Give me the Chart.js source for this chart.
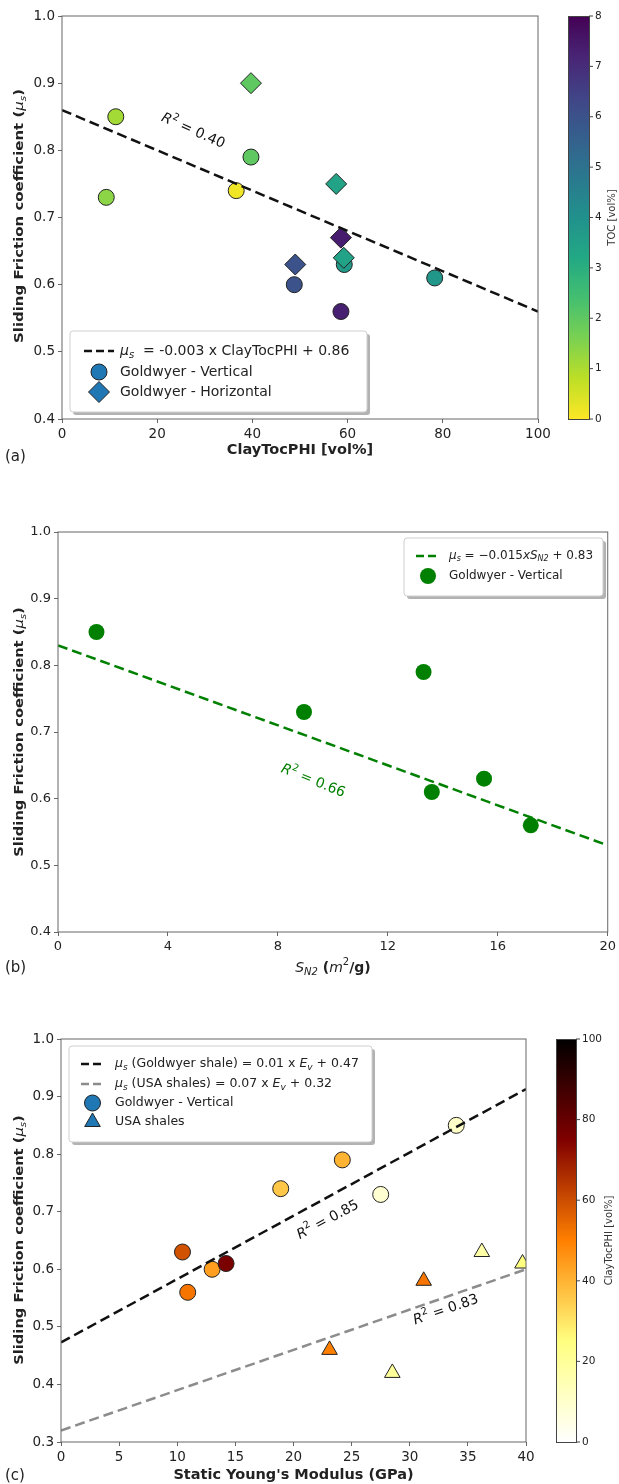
<!DOCTYPE html>
<html>
<head>
<meta charset="utf-8">
<script src="https://cdn.jsdelivr.net/npm/chart.js@4.4.1/dist/chart.umd.min.js"></script>
<style>
  body { margin: 0; background: #fff; }
  canvas { position: absolute; left: 0; }
</style>
</head>
<body>
<canvas id="chartA" width="619" height="480" style="top:0"></canvas>
<canvas id="chartB" width="619" height="500" style="top:480px"></canvas>
<canvas id="chartC" width="619" height="504" style="top:980px"></canvas>
<script>
// (a) friction vs ClayTocPHI, coloured by TOC
const clayVert = [11.3, 9.3, 39.7, 36.6, 48.8, 59.3, 58.6, 78.3];
const muVert = [0.85, 0.73, 0.79, 0.74, 0.60, 0.63, 0.56, 0.61];
const tocVert = [1.1, 1.4, 2.0, 0.15, 6.0, 3.7, 7.3, 3.8];
const clayHoriz = [39.7, 57.6, 58.6, 49.0, 59.2];
const muHoriz = [0.90, 0.75, 0.67, 0.63, 0.64];
const tocHoriz = [2.0, 3.4, 7.4, 6.0, 3.4];
const fitA = [-0.003, 0.86]; // slope, intercept

// (b) friction vs N2 surface area
const sn2 = [1.4, 8.95, 13.3, 13.6, 15.5, 17.2];
const muSn2 = [0.85, 0.73, 0.79, 0.61, 0.63, 0.56];
const fitB = [-0.015, 0.83];

// (c) friction vs static Young's modulus, coloured by ClayTocPHI
const eGoldwyer = [34.0, 24.2, 18.9, 27.5, 10.45, 10.9, 13.0, 14.2];
const muGoldwyer = [0.85, 0.79, 0.74, 0.73, 0.63, 0.56, 0.60, 0.61];
const clayGoldwyer = [11, 40, 36, 9, 59, 52, 44, 76];
const eUsa = [23.1, 28.5, 31.2, 36.2, 39.7];
const muUsa = [0.46, 0.42, 0.58, 0.63, 0.61];
const clayUsa = [50, 20, 52, 17, 25];
const fitGoldwyer = [0.011, 0.473];
const fitUsa = [0.007, 0.32];

// tick labels
const xTicksA = [0, 20, 40, 60, 80, 100];
const yTicksA = [0.4, 0.5, 0.6, 0.7, 0.8, 0.9, 1.0];
const tocTicks = [0, 1, 2, 3, 4, 5, 6, 7, 8];
const xTicksB = [0, 4, 8, 12, 16, 20];
const yTicksB = [0.4, 0.5, 0.6, 0.7, 0.8, 0.9, 1.0];
const xTicksC = [0, 5, 10, 15, 20, 25, 30, 35, 40];
const yTicksC = [0.3, 0.4, 0.5, 0.6, 0.7, 0.8, 0.9, 1.0];
const clayTicks = [0, 20, 40, 60, 80, 100];

const FAM = "'DejaVu Sans', sans-serif";
const TXT = '#222';
const DASH = [10, 5];

// colormaps
const VIRIDIS = ['#440154', '#482475', '#414487', '#355f8d', '#2a788e', '#21918c',
  '#22a884', '#44bf70', '#7ad151', '#bddf26', '#fde725'];
function hexRgb(h) {
  return [1, 3, 5].map(i => parseInt(h.slice(i, i + 2), 16));
}
function viridis(t) {
  t = Math.max(0, Math.min(1, t));
  const i = Math.min(9, Math.floor(t * 10));
  const f = t * 10 - i;
  const a = hexRgb(VIRIDIS[i]), b = hexRgb(VIRIDIS[i + 1]);
  const c = a.map((v, k) => Math.round(v + (b[k] - v) * f));
  return `rgb(${c[0]},${c[1]},${c[2]})`;
}
const tocColor = v => viridis(1 - v / 8);
function afmhotR(v) {
  const t = 1 - v / 100;
  const c = x => Math.round(255 * Math.max(0, Math.min(1, x)));
  return `rgb(${c(2 * t)},${c(2 * t - 0.5)},${c(2 * t - 1)})`;
}

function fitLine(coef, x0, x1) {
  return [x0, x1].map(x => ({ x, y: coef[1] + coef[0] * x }));
}
function points(xs, ys) {
  return xs.map((x, i) => ({ x, y: ys[i] }));
}

// mixed-style text runs
const reg = (t, s = 13) => ({ text: t, font: `${s}px ${FAM}` });
const bold = (t, s = 13) => ({ text: t, font: `bold ${s}px ${FAM}` });
const ital = (t, s = 13) => ({ text: t, font: `italic ${s}px ${FAM}` });
const sub = (t, s = 13) => ({ text: t, font: `italic ${Math.round(s * 0.7)}px ${FAM}`, dy: s * 0.28 });
const sup = (t, s = 13) => ({ text: t, font: `${Math.round(s * 0.7)}px ${FAM}`, dy: -s * 0.38 });

function drawRich(ctx, parts, x, y, align, color) {
  ctx.save();
  ctx.textBaseline = 'middle';
  ctx.textAlign = 'left';
  let w = 0;
  parts.forEach(p => { ctx.font = p.font; p.w = ctx.measureText(p.text).width; w += p.w; });
  let cx = align === 'center' ? x - w / 2 : x;
  ctx.fillStyle = color || TXT;
  parts.forEach(p => {
    ctx.font = p.font;
    ctx.fillText(p.text, cx, y + (p.dy || 0));
    cx += p.w;
  });
  ctx.restore();
}
function drawRotated(ctx, parts, x, y, deg, color, stretch) {
  ctx.save();
  ctx.translate(x, y);
  ctx.rotate(deg * Math.PI / 180);
  if (stretch) ctx.scale(stretch, 1);
  drawRich(ctx, parts, 0, 0, 'center', color);
  ctx.restore();
}

function marker(ctx, shape, x, y, r, fill, edge) {
  ctx.save();
  ctx.beginPath();
  if (shape === 'circle') {
    ctx.arc(x, y, r, 0, Math.PI * 2);
  } else if (shape === 'diamond') {
    ctx.moveTo(x, y - r); ctx.lineTo(x + r, y); ctx.lineTo(x, y + r); ctx.lineTo(x - r, y);
    ctx.closePath();
  } else {
    ctx.moveTo(x, y - r); ctx.lineTo(x + r * 0.866, y + r / 2); ctx.lineTo(x - r * 0.866, y + r / 2);
    ctx.closePath();
  }
  ctx.fillStyle = fill;
  ctx.fill();
  if (edge) { ctx.strokeStyle = edge; ctx.lineWidth = 1; ctx.stroke(); }
  ctx.restore();
}

function roundRect(ctx, x, y, w, h, r) {
  ctx.beginPath();
  ctx.moveTo(x + r, y);
  ctx.arcTo(x + w, y, x + w, y + h, r);
  ctx.arcTo(x + w, y + h, x, y + h, r);
  ctx.arcTo(x, y + h, x, y, r);
  ctx.arcTo(x, y, x + w, y, r);
  ctx.closePath();
}

function drawLegend(ctx, box, items) {
  ctx.save();
  ctx.fillStyle = 'rgba(0,0,0,0.3)';
  roundRect(ctx, box.x + 3, box.y + 3, box.w, box.h, 3);
  ctx.fill();
  ctx.fillStyle = '#fff';
  roundRect(ctx, box.x, box.y, box.w, box.h, 3);
  ctx.fill();
  ctx.strokeStyle = '#cfcfcf';
  ctx.lineWidth = 1;
  ctx.stroke();
  items.forEach(it => {
    if (it.line) {
      ctx.save();
      ctx.strokeStyle = it.line;
      ctx.lineWidth = 2.5;
      ctx.setLineDash([8, 4]);
      ctx.beginPath();
      ctx.moveTo(box.h0, it.y);
      ctx.lineTo(box.h1, it.y);
      ctx.stroke();
      ctx.restore();
    } else {
      marker(ctx, it.shape, (box.h0 + box.h1) / 2, it.y, it.r, it.fill, it.edge);
    }
    drawRich(ctx, it.label, box.tx, it.y, 'left', TXT);
  });
  ctx.restore();
}

function drawColorbar(ctx, cb) {
  ctx.save();
  const g = ctx.createLinearGradient(0, cb.bottom, 0, cb.top);
  for (let i = 0; i <= 20; i++) g.addColorStop(i / 20, cb.cmap(i / 20));
  ctx.fillStyle = g;
  ctx.fillRect(cb.x, cb.top, cb.w, cb.bottom - cb.top);
  ctx.strokeStyle = '#444';
  ctx.lineWidth = 1;
  ctx.strokeRect(cb.x + 0.5, cb.top + 0.5, cb.w, cb.bottom - cb.top);
  ctx.fillStyle = TXT;
  ctx.font = `10.5px ${FAM}`;
  ctx.textBaseline = 'middle';
  cb.ticks.forEach(v => {
    const y = cb.bottom - (v - cb.min) / (cb.max - cb.min) * (cb.bottom - cb.top);
    ctx.beginPath();
    ctx.moveTo(cb.x + cb.w, y);
    ctx.lineTo(cb.x + cb.w + 4, y);
    ctx.stroke();
    ctx.fillText(String(v), cb.x + cb.w + 6, y);
  });
  ctx.restore();
  drawRotated(ctx, [reg(cb.label, 10)], cb.lx, (cb.top + cb.bottom) / 2, -90, '#333');
}

function drawFrame(ctx, a) {
  ctx.save();
  ctx.strokeStyle = '#666';
  ctx.lineWidth = 1;
  ctx.strokeRect(a.left, a.top, a.right - a.left, a.bottom - a.top);
  ctx.restore();
}

function scaleOpts(range, ticks, fmt, fit, size) {
  return {
    type: 'linear',
    min: range[0],
    max: range[1],
    afterBuildTicks: s => { s.ticks = ticks.map(v => ({ value: v })); },
    afterFit: fit,
    grid: { drawOnChartArea: false, drawTicks: true, tickLength: 4, tickColor: '#666' },
    border: { display: false },
    ticks: { font: { family: FAM, size: size }, color: TXT, padding: 3,
      maxRotation: 0, autoSkip: false, callback: fmt }
  };
}

function baseOptions(box, h, xr, xt, yr, yt, size) {
  return {
    responsive: false,
    devicePixelRatio: 1,
    animation: false,
    events: [],
    layout: { padding: { left: 0, top: box.top, right: 619 - box.right, bottom: 0 } },
    plugins: { legend: { display: false }, tooltip: { enabled: false } },
    scales: {
      x: scaleOpts(xr, xt, v => String(v), s => { s.height = h - box.bottom; }, size),
      y: scaleOpts(yr, yt, v => v.toFixed(1), s => { s.width = box.left; }, size)
    }
  };
}

const yTitle = [bold('Sliding Friction coefficient ('), ital('μ'), sub('s'), bold(')')];
const R2 = v => [ital('R', 14), sup('2', 14), reg(' = ' + v, 14)];

// ---- (a)
const boxA = { left: 62, right: 538, top: 16, bottom: 419 };
new Chart(document.getElementById('chartA'), {
  type: 'scatter',
  data: {
    datasets: [
      { type: 'line', data: fitLine(fitA, 0, 100), borderColor: '#111', borderWidth: 2.5,
        borderDash: DASH, pointRadius: 0, clip: 0 },
      { data: points(clayHoriz, muHoriz), pointStyle: 'rectRot', pointRadius: 10.5,
        backgroundColor: tocHoriz.map(tocColor), borderColor: '#222', borderWidth: 1, clip: 0 },
      { data: points(clayVert, muVert), pointStyle: 'circle', pointRadius: 8,
        backgroundColor: tocVert.map(tocColor), borderColor: '#222', borderWidth: 1, clip: 0 }
    ]
  },
  options: baseOptions(boxA, 480, [0, 100], xTicksA, [0.4, 1.0], yTicksA, 13.5),
  plugins: [{
    id: 'decorA',
    afterDraw(chart) {
      const ctx = chart.ctx;
      drawFrame(ctx, chart.chartArea);
      drawRotated(ctx, R2('0.40'), 193, 131, 24, '#111');
      drawLegend(ctx, { x: 70, y: 331, w: 297, h: 81, h0: 84, h1: 114, tx: 120 }, [
        { line: '#111', y: 351, label: [ital('μ', 14), sub('s', 14), reg('  = -0.003 x ClayTocPHI + 0.86', 14)] },
        { shape: 'circle', r: 8, fill: '#1f77b4', edge: '#222', y: 372, label: [reg('Goldwyer - Vertical', 14)] },
        { shape: 'diamond', r: 10.5, fill: '#1f77b4', edge: '#222', y: 392, label: [reg('Goldwyer - Horizontal', 14)] }
      ]);
      drawColorbar(ctx, { x: 568, w: 21, top: 16, bottom: 419, min: 0, max: 8, ticks: tocTicks,
        cmap: t => viridis(1 - t), label: 'TOC [vol%]', lx: 612 });
      drawRotated(ctx, yTitle, 20, 216, -90, TXT, 1.15);
      drawRich(ctx, [bold('ClayTocPHI [vol%]', 14.5)], 300, 450, 'center');
      drawRich(ctx, [reg('(a)', 15)], 5, 457, 'left');
    }
  }]
});

// ---- (b)
const boxB = { left: 58, right: 608, top: 52, bottom: 452 };
new Chart(document.getElementById('chartB'), {
  type: 'scatter',
  data: {
    datasets: [
      { type: 'line', data: fitLine(fitB, 0, 20), borderColor: '#008000', borderWidth: 2.5,
        borderDash: DASH, pointRadius: 0, clip: 0 },
      { data: points(sn2, muSn2), pointStyle: 'circle', pointRadius: 8,
        backgroundColor: '#008000', borderWidth: 0, clip: 0 }
    ]
  },
  options: baseOptions(boxB, 500, [0, 20], xTicksB, [0.4, 1.0], yTicksB, 13),
  plugins: [{
    id: 'decorB',
    afterDraw(chart) {
      const ctx = chart.ctx;
      drawFrame(ctx, chart.chartArea);
      drawRotated(ctx, R2('0.66'), 313, 301, 22, '#008000');
      drawLegend(ctx, { x: 404, y: 58, w: 199, h: 58, h0: 416, h1: 440, tx: 449 }, [
        { line: '#008000', y: 76, label: [ital('μ', 12), sub('s', 12), reg(' = −0.015', 12),
          ital('x', 12), ital('S', 12), sub('N2', 12), reg(' + 0.83', 12)] },
        { shape: 'circle', r: 8, fill: '#008000', y: 96, label: [reg('Goldwyer - Vertical', 12)] }
      ]);
      drawRotated(ctx, yTitle, 20, 252, -90, TXT, 1.13);
      drawRich(ctx, [ital('S', 14), sub('N2', 14), bold(' (', 14), ital('m', 14), sup('2', 14), bold('/g)', 14)],
        333, 488, 'center');
      drawRich(ctx, [reg('(b)', 15)], 5, 488, 'left');
    }
  }]
});

// ---- (c)
const boxC = { left: 61, right: 526, top: 59, bottom: 462 };
new Chart(document.getElementById('chartC'), {
  type: 'scatter',
  data: {
    datasets: [
      { type: 'line', data: fitLine(fitGoldwyer, 0, 40), borderColor: '#111', borderWidth: 2.5,
        borderDash: DASH, pointRadius: 0, clip: 0 },
      { type: 'line', data: fitLine(fitUsa, 0, 40), borderColor: '#8c8c8c', borderWidth: 2.5,
        borderDash: DASH, pointRadius: 0, clip: 0 },
      { data: points(eGoldwyer, muGoldwyer), pointStyle: 'circle', pointRadius: 8,
        backgroundColor: clayGoldwyer.map(afmhotR), borderColor: '#222', borderWidth: 1, clip: 0 },
      { data: points(eUsa, muUsa), pointStyle: 'triangle', pointRadius: 9,
        backgroundColor: clayUsa.map(afmhotR), borderColor: '#222', borderWidth: 1, clip: 0 }
    ]
  },
  options: baseOptions(boxC, 504, [0, 40], xTicksC, [0.3, 1.0], yTicksC, 13.5),
  plugins: [{
    id: 'decorC',
    afterDraw(chart) {
      const ctx = chart.ctx;
      drawFrame(ctx, chart.chartArea);
      drawRotated(ctx, R2('0.85'), 328, 240, -28, '#111');
      drawRotated(ctx, R2('0.83'), 446, 330, -19, '#111');
      drawLegend(ctx, { x: 69, y: 66, w: 303, h: 96, h0: 81, h1: 104, tx: 115 }, [
        { line: '#111', y: 84, label: [ital('μ', 12.5), sub('s', 12.5), reg(' (Goldwyer shale) = 0.01 x ', 12.5),
          ital('E', 12.5), sub('v', 12.5), reg(' + 0.47', 12.5)] },
        { line: '#8c8c8c', y: 104, label: [ital('μ', 12.5), sub('s', 12.5), reg(' (USA shales) = 0.07 x ', 12.5),
          ital('E', 12.5), sub('v', 12.5), reg(' + 0.32', 12.5)] },
        { shape: 'circle', r: 8, fill: '#1f77b4', edge: '#222', y: 123, label: [reg('Goldwyer - Vertical', 12.5)] },
        { shape: 'triangle', r: 9, fill: '#1f77b4', edge: '#222', y: 142, label: [reg('USA shales', 12.5)] }
      ]);
      drawColorbar(ctx, { x: 556, w: 20, top: 59, bottom: 462, min: 0, max: 100, ticks: clayTicks,
        cmap: t => afmhotR(t * 100), label: 'ClayTocPHI [vol%]', lx: 609 });
      drawRotated(ctx, yTitle, 20, 260, -90, TXT, 1.13);
      drawRich(ctx, [bold("Static Young's Modulus (GPa)", 14.5)], 293.5, 495, 'center');
      drawRich(ctx, [reg('(c)', 15)], 5, 496, 'left');
    }
  }]
});
</script>
</body>
</html>
